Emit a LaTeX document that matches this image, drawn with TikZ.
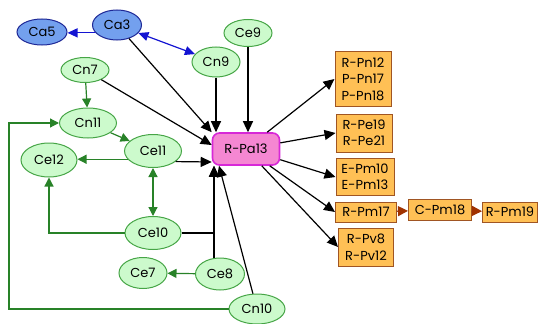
\documentclass[tikz,border=0pt]{standalone}
\usepackage{fontspec}
\setmainfont{Poppins}
\usepackage{xcolor}
\usetikzlibrary{shapes.geometric}
\usetikzlibrary{arrows.meta}

\definecolor{gfill}{RGB}{204,250,204}
\definecolor{gline}{RGB}{70,165,70}
\definecolor{gedge}{RGB}{40,130,40}
\definecolor{bfill}{RGB}{115,160,238}
\definecolor{bline}{RGB}{30,40,150}
\definecolor{bedge}{RGB}{20,20,210}
\definecolor{hubfill}{RGB}{245,135,210}
\definecolor{hubline}{RGB}{215,40,215}
\definecolor{ofill}{RGB}{255,192,85}
\definecolor{oline}{RGB}{160,85,35}
\definecolor{redge}{RGB}{160,50,0}

\begin{document}
\begin{tikzpicture}[
  x=1pt, y=-1pt,
  font=\fontsize{13}{16.5}\selectfont,
  gnode/.style={ellipse, draw=gline, fill=gfill, line width=1pt, inner sep=0pt, minimum width=56pt, minimum height=31pt},
  bnode/.style={ellipse, draw=bline, fill=bfill, line width=1pt, inner sep=0pt, minimum width=50pt, minimum height=26pt},
  hub/.style={draw=hubline, fill=hubfill, rounded corners=7pt, line width=1.6pt, minimum width=67pt, minimum height=32pt},
  outbox/.style={draw=oline, fill=ofill, line width=1pt, align=center, inner sep=2pt, minimum width=56pt},
  arrow/.style={-{Triangle[length=11pt,width=10pt]}, line width=1.2pt},
  garrow/.style={-{Triangle[length=9pt,width=9pt]}, gedge, line width=1.2pt},
  gboth/.style={{Triangle[length=9pt,width=9pt]}-{Triangle[length=9pt,width=9pt]}, gedge, line width=1.2pt},
  bboth/.style={{Triangle[length=10pt,width=9pt]}-{Triangle[length=10pt,width=9pt]}, bedge, line width=1.2pt},
  barrow/.style={-{Triangle[length=10pt,width=9pt]}, bedge, line width=1.2pt},
  rarrow/.style={-{Triangle[length=10pt,width=10pt]}, redge, line width=1.2pt}
]
\useasboundingbox (0,0) rectangle (539,324);

% Top: blue pair
\node[bnode] (ca5) at (42,32) {Ca5};
\node[bnode, minimum width=49pt, minimum height=30pt] (ca3) at (117,25) {Ca3};

% Green inputs
\node[gnode, minimum width=48pt, minimum height=27pt] (ce9) at (248,33) {Ce9};
\node[gnode, minimum width=48pt, minimum height=30pt] (cn9) at (216,62) {Cn9};
\node[gnode, minimum width=48pt, minimum height=25pt] (cn7) at (85,70) {Cn7};
\node[gnode, minimum width=57pt, minimum height=30pt] (cn11) at (88,123) {Cn11};
\node[gnode, minimum width=57pt, minimum height=33pt] (ce11) at (153,151) {Ce11};
\node[gnode, minimum height=34pt] (ce12) at (49,160) {Ce12};
\node[gnode, minimum height=33pt] (ce10) at (153,233) {Ce10};
\node[gnode, minimum width=48pt] (ce7) at (143,273) {Ce7};
\node[gnode, minimum width=49pt, minimum height=32pt] (ce8) at (220,274) {Ce8};
\node[gnode, minimum height=30pt] (cn10) at (257,309) {Cn10};

% Center hub
\node[hub] (rpa) at (246,149) {R-Pa13};
\coordinate (pin) at ([xshift=-32pt]rpa.south);
\coordinate (lft) at (9,0);

% Right: outputs
\node[outbox, minimum height=55pt] (pn) at (363,79) {R-Pn12\\P-Pn17\\P-Pn18};
\node[outbox, minimum height=38pt] (pe) at (364,133) {R-Pe19\\R-Pe21};
\node[outbox, minimum width=58pt, minimum height=37pt] (pm) at (365,177) {E-Pm10\\E-Pm13};
\node[outbox, minimum width=61pt, minimum height=20pt, inner sep=1pt] (pm17) at (366,212) {R-Pm17};
\node[outbox, minimum width=63pt, minimum height=21pt, inner sep=1pt] (pm18) at (440,210) {C-Pm18};
\node[outbox, minimum width=55pt, minimum height=20pt, inner sep=1pt] (pm19) at (510,212) {R-Pm19};
\node[outbox, minimum width=55pt, minimum height=38pt] (pv) at (366,247) {R-Pv8\\R-Pv12};

% Blue links
\draw[barrow] (ca3.200) -- (ca5.east |- ca3.200);
\draw[bboth] (ca3) -- (cn9);

% Green links
\draw[garrow] (cn7) -- (cn11);
\draw[garrow] (cn11) -- (ce11);
\draw[garrow] (ce11.198) -- (ce12.east |- ce11.198);
\draw[gboth] (ce11) -- (ce10);
\draw[garrow] (ce10.west) -| (ce12.south);
\draw[garrow] (ce8) -- (ce7);
\draw[garrow] (cn10.west) -- (cn10.west -| lft) |- (cn11.west);

% Into the hub
\draw[arrow] (ca3) -- (rpa.north west);
\draw[arrow] (cn9) -- (cn9 |- rpa.north);
\draw[arrow] (ce9) -- (ce9 |- rpa.north);
\draw[arrow] (cn7) -- ([yshift=4pt]rpa.west);
\draw[arrow] (ce11.-25) -- ([yshift=-13pt]rpa.west);
\draw[arrow] (ce10.east) -| (pin);
\draw[arrow] (ce8.north -| pin) -- (pin);
\draw[arrow] (cn10) -- ([xshift=-27pt]rpa.south);

% Out of the hub
\draw[arrow] (rpa) -- (pn.west);
\draw[arrow] (rpa) -- (pe.west);
\draw[arrow] (rpa) -- (pm.west);
\draw[arrow] (rpa) -- (pm17.west);
\draw[arrow] (rpa) -- (pv.west);

% Chain
\draw[rarrow] (pm17) -- (pm18);
\draw[rarrow] (pm18) -- (pm19);

\end{tikzpicture}
\end{document}
